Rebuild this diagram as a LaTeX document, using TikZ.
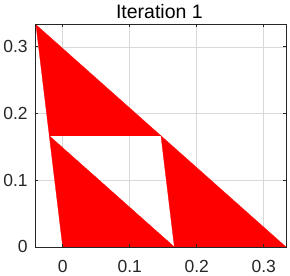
\documentclass[tikz,border=0pt]{standalone}
\usepackage{fontspec}
\setmainfont{Liberation Sans}
\usepackage{tikz}
\usetikzlibrary{positioning}
\definecolor{GridGray}{gray}{0.85}
\definecolor{AxisBlack}{gray}{0.15}

\begin{document}
\begin{tikzpicture}[x=670pt, y=667pt,
  gridline/.style={draw=GridGray, line width=0.6pt},
  axisline/.style={draw=AxisBlack, line width=0.9pt},
  piece/.style={fill=red, draw=red, line width=0.3pt},
  ticklabel/.style={font=\fontsize{17.5}{20}\selectfont, text=AxisBlack, inner sep=0pt}]
\useasboundingbox (-0.0936,-0.0435) rectangle (0.3393,0.3703);
% grid
\foreach \v in {0,0.1,0.2,0.3} {
  \draw[gridline] (\v,0) -- (\v,1/3);
  \draw[gridline] (-0.04,\v) -- (1/3,\v);
}
% the three triangles
\coordinate (top) at (-0.04,1/3);
\coordinate (ll) at (0,0);
\coordinate (lr) at (1/3,0);
\coordinate (mleft) at (-0.02,1/6);
\coordinate (mbot) at (1/6,0);
\coordinate (mright) at (0.14667,1/6);
\filldraw[piece] (top) -- (mleft) -- (mright) -- cycle;
\filldraw[piece] (mleft) -- (ll) -- (mbot) -- cycle;
\filldraw[piece] (mright) -- (mbot) -- (lr) -- cycle;
% axes box and ticks
\draw[axisline] (-0.04,0) rectangle (1/3,1/3);
\foreach \v in {0,0.1,0.2,0.3} {
  \draw[axisline] (\v,0) -- ++(0,0.0038);
  \draw[axisline] (\v,1/3) -- ++(0,-0.0038);
  \draw[axisline] (-0.04,\v) -- ++(0.0038,0);
  \draw[axisline] (1/3,\v) -- ++(-0.0038,0);
}
\foreach \v/\n in {0/xa,0.1/xb,0.2/xc,0.3/xd}
  \node[ticklabel] (\n) at (\v,-0.0296) {\v};
\foreach \v/\n in {0/ya,0.1/yb,0.2/yc,0.3/yd}
  \node[ticklabel, anchor=east] (\n) at (-0.052,\v) {\v};
\node[font=\fontsize{19.5}{22}\selectfont, text=black, inner sep=0pt] (title) at (0.1443,0.3530) {Iteration 1};
\end{tikzpicture}
\end{document}
